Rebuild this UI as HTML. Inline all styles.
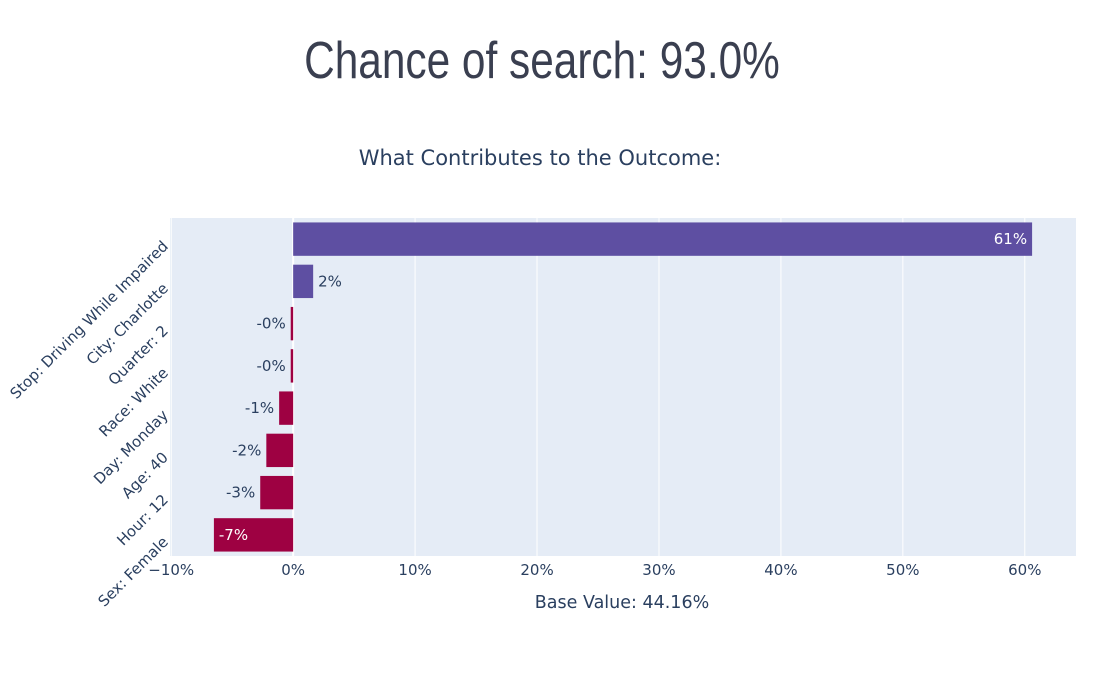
<!DOCTYPE html>
<html><head><meta charset="utf-8"><style>
body{margin:0;background:#fff;width:1115px;height:676px;overflow:hidden;font-family:"DejaVu Sans",sans-serif}
</style></head><body>
<svg width="1115" height="676">
<text x="542" y="78" text-anchor="middle" font-size="52" fill="#3a3f50" font-family="Liberation Sans" transform="translate(542,0) scale(0.815,1) translate(-542,0)">Chance of search: 93.0%</text>
<text x="540" y="165" text-anchor="middle" font-size="21" fill="#2a3f5f">What Contributes to the Outcome:</text>
<rect x="170" y="218" width="906" height="338" fill="#e5ecf6"/>
<g id="grid"></g><g id="bars"></g><g id="labels"></g>
<text x="622" y="608" text-anchor="middle" font-size="17.5" fill="#2a3f5f">Base Value: 44.16%</text>
</svg>
<script>
const categories=["Stop: Driving While Impaired","City: Charlotte","Quarter: 2","Race: White","Day: Monday","Age: 40","Hour: 12","Sex: Female"];
const values=[60.6,1.64,-0.2,-0.2,-1.15,-2.2,-2.7,-6.5];
const valueLabels=["61%","2%","-0%","-0%","-1%","-2%","-3%","-7%"];
const ticks=[-10,0,10,20,30,40,50,60];
const tickLabels=["−10%","0%","10%","20%","30%","40%","50%","60%"];
const L=170,R=1076,T=218,B=556,xmin=-10.1,xmax=64.2;
const xs=v=>L+(v-xmin)/(xmax-xmin)*(R-L);
const band=(B-T)/categories.length;
const NS="http://www.w3.org/2000/svg";
function mk(tag,at,parent,txt){const e=document.createElementNS(NS,tag);for(const k in at)e.setAttribute(k,at[k]);if(txt!=null)e.textContent=txt;document.getElementById(parent).appendChild(e);return e;}
ticks.forEach((t,i)=>{
 const g=mk('line',{x1:xs(t),x2:xs(t),y1:T,y2:B,stroke:'#fff','stroke-width':t===0?2:1},'grid');
 
 
 const tl=mk('text',{x:xs(t),y:B+19,'text-anchor':'middle','font-size':15,fill:'#2a3f5f'},'labels',tickLabels[i]);
 
 
});
categories.forEach((c,i)=>{
 const cy=T+band*(i+0.5),v=values[i],h=band*0.79;
 const x0=xs(Math.min(0,v)),x1=xs(Math.max(0,v));
 const r=mk('rect',{x:x0,y:cy-h/2,width:Math.max(x1-x0,1.5),height:h,fill:v>=0?'#5e4fa2':'#9e0142'},'bars');
 
 
 const big=Math.abs(x1-x0)>40;
 let tx,anchor,col;
 if(v>=0){tx=big?x1-5:x1+5;anchor=big?'end':'start';}
 else{tx=big?x0+5:x0-5;anchor=big?'start':'end';}
 col=big?'#fff':'#2a3f5f';
 const vl=mk('text',{x:tx,y:cy+5,'text-anchor':anchor,'font-size':15,fill:col},'labels',valueLabels[i]);
 
 
 const yl=mk('text',{x:0,y:0,'text-anchor':'end','font-size':15,fill:'#2a3f5f',transform:`translate(${L-1},${cy+8}) rotate(-45)`},'labels',c);
 
 
});
</script>
</body></html>
